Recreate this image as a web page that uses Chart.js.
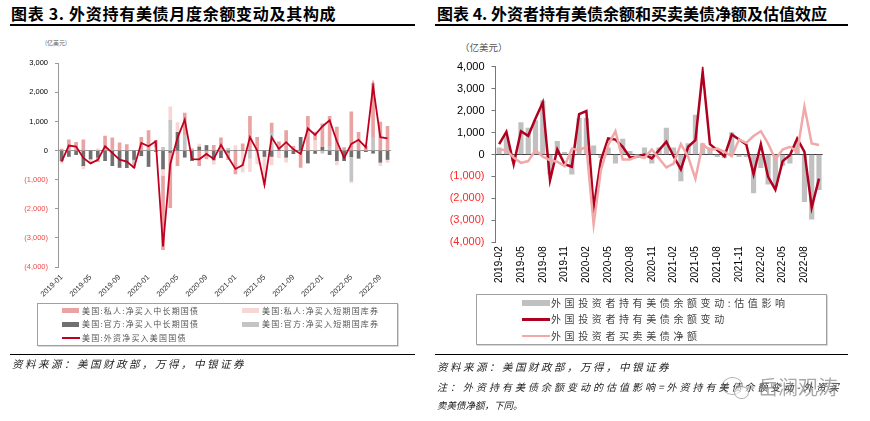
<!DOCTYPE html>
<html lang="zh">
<head>
<meta charset="UTF-8">
<title>外资持有美债</title>
<script src="https://cdn.jsdelivr.net/npm/chart.js@4.4.1/dist/chart.umd.js"></script>
<style>
  html, body { margin: 0; padding: 0; background: #fff; }
  body { width: 870px; height: 421px; position: relative; overflow: hidden; font-family: "Noto Sans CJK SC", sans-serif; }
  .abs { position: absolute; white-space: nowrap; }
  .title { font-size: 16px; font-weight: 700; line-height: 16px; color: #000; }
  .rule { position: absolute; background: #000; }
  .box { position: absolute; border: 1px solid #a0a0a0; box-shadow: 1px 1px 0 #d8d8d8; }
  .lgL { font-size: 8px; line-height: 10px; letter-spacing: 1.2px; color: #555; }
  .lgR { font-size: 10px; line-height: 12px; letter-spacing: 3.6px; color: #444; }
  .src { font-style: italic; color: #222; }
</style>
</head>
<body>
<div class="abs title" style="left:11px;top:5px;letter-spacing:0.7px;">图表 3. 外资持有美债月度余额变动及其构成</div>
<div class="abs title" style="left:437px;top:5px;">图表 4. 外资者持有美债余额和买卖美债净额及估值效应</div>
<div class="rule" style="left:10px;top:24px;width:405px;height:1.5px;"></div>
<div class="rule" style="left:435px;top:24px;width:413px;height:1.5px;"></div>

<div class="abs" style="left:45px;top:39px;font-size:6px;line-height:8px;color:#666;">(亿美元)</div>
<div class="abs" style="left:460px;top:41px;font-size:9.5px;line-height:12px;color:#555;">（亿美元）</div>

<canvas id="c1" width="400" height="250" style="position:absolute;left:0;top:50px;"></canvas>
<canvas id="c2" width="400" height="240" style="position:absolute;left:435px;top:50px;"></canvas>

<!-- left legend -->
<div class="box" style="left:37px;top:303px;width:359px;height:41px;"></div>
<div class="abs" style="left:62px;top:308px;width:17px;height:5px;background:#e9a3a3;"></div>
<div class="abs lgL" style="left:82px;top:305.5px;">美国:私人:净买入中长期国债</div>
<div class="abs" style="left:242px;top:308px;width:17px;height:5px;background:#f8d6d6;"></div>
<div class="abs lgL" style="left:262px;top:305.5px;">美国:私人:净买入短期国库券</div>
<div class="abs" style="left:62px;top:321.5px;width:17px;height:5px;background:#707070;"></div>
<div class="abs lgL" style="left:82px;top:319px;">美国:官方:净买入中长期国债</div>
<div class="abs" style="left:242px;top:321.5px;width:17px;height:5px;background:#c4c4c4;"></div>
<div class="abs lgL" style="left:262px;top:319px;">美国:官方:净买入短期国库券</div>
<div class="abs" style="left:62px;top:337px;width:18px;height:1.8px;background:#c00020;"></div>
<div class="abs lgL" style="left:82px;top:332.7px;">美国:外资净买入美国国债</div>

<!-- right legend -->
<div class="box" style="left:476px;top:294px;width:349px;height:49px;"></div>
<div class="abs" style="left:522px;top:299.7px;width:28px;height:6px;background:#c0c0c0;"></div>
<div class="abs lgR" style="left:551px;top:296.7px;">外国投资者持有美债余额变动:估值影响</div>
<div class="abs" style="left:522px;top:318px;width:28px;height:2.5px;background:#b00020;"></div>
<div class="abs lgR" style="left:551px;top:313.3px;">外国投资者持有美债余额变动</div>
<div class="abs" style="left:522px;top:334.7px;width:28px;height:2.5px;background:#f0a8a8;"></div>
<div class="abs lgR" style="left:551px;top:330px;">外国投资者买卖美债净额</div>

<div class="rule" style="left:10px;top:353.5px;width:405px;height:1.3px;"></div>
<div class="rule" style="left:435px;top:353.5px;width:413px;height:1.3px;"></div>

<div class="abs src" style="left:12px;top:357px;font-size:10.5px;line-height:14px;letter-spacing:2.5px;">资料来源：美国财政部，万得，中银证券</div>
<div class="abs src" style="left:437px;top:360px;font-size:10.5px;line-height:14px;letter-spacing:2.5px;">资料来源：美国财政部，万得，中银证券</div>
<div class="abs src" style="left:437px;top:380px;font-size:10px;line-height:14px;letter-spacing:3px;">注：外资持有美债余额变动的估值影响=外资持有美债余额变动-外资买</div>
<div class="abs src" style="left:437px;top:398px;font-size:9.5px;line-height:14px;">卖美债净额，下同。</div>

<!-- watermark -->
<div class="abs" style="left:722px;top:377px;width:19px;height:16px;border:1.5px solid rgba(120,120,120,0.6);border-radius:50%;"></div>
<div class="abs" style="left:734px;top:386px;width:13px;height:11px;border:1.5px solid rgba(120,120,120,0.6);border-radius:50%;background:rgba(255,255,255,0.6);"></div>
<div class="abs" style="left:758px;top:375px;font-size:20px;line-height:24px;color:rgba(110,110,110,0.6);">岳澜观涛</div>

<script>
// ---- 图表3 数据 (亿美元) ----
const monthsL = ['2019-01','2019-02','2019-03','2019-04','2019-05','2019-06','2019-07','2019-08','2019-09','2019-10','2019-11','2019-12',
  '2020-01','2020-02','2020-03','2020-04','2020-05','2020-06','2020-07','2020-08','2020-09','2020-10','2020-11','2020-12',
  '2021-01','2021-02','2021-03','2021-04','2021-05','2021-06','2021-07','2021-08','2021-09','2021-10','2021-11','2021-12',
  '2022-01','2022-02','2022-03','2022-04','2022-05','2022-06','2022-07','2022-08','2022-09','2022-10'];
const tickLabelsL = ['2019-01','2019-05','2019-09','2020-01','2020-05','2020-09','2021-01','2021-05','2021-09','2022-01','2022-05','2022-09'];
const privLong = [50,370,280,370,-70,-150,500,400,270,210,-140,460,690,250,-2545,-1900,-520,770,60,-520,-285,180,440,-250,-800,230,1180,460,0,320,200,690,150,-575,1180,290,805,1030,810,100,1330,630,150,1840,980,830];
const privShort = [-80,0,0,-100,-80,60,0,0,0,0,0,-25,0,100,-230,460,330,0,0,100,0,-150,0,0,170,-730,-470,-460,-970,-290,-240,-170,0,0,0,350,0,0,-140,0,-60,0,0,0,-120,-110];
const offLong = [-350,-200,-140,-520,-290,-230,-350,-520,-580,-590,-300,-170,-540,-30,-630,-60,630,-230,-350,120,170,-320,-240,-60,0,0,0,0,-200,-200,0,-230,-105,460,-420,-100,115,-140,-350,-350,-210,-260,-35,-90,-400,-300];
const offShort = [0,0,0,0,0,0,0,40,0,0,-150,0,0,0,115,1040,0,520,0,0,0,0,0,80,0,0,-250,0,0,630,100,0,0,0,0,0,-90,150,0,0,-830,0,0,460,0,0];
const foreignNet = [-380,175,140,-250,-440,-320,150,-80,-310,-380,-590,265,150,320,-3290,-460,440,1060,-290,-300,-115,-290,200,-230,-630,-500,460,0,-1170,460,60,290,45,-115,760,540,830,1040,320,-250,230,370,115,2210,460,420];

// ---- 图表4 数据 (亿美元) ----
const monthsR = ['2019-02','2019-03','2019-04','2019-05','2019-06','2019-07','2019-08','2019-09','2019-10','2019-11','2019-12',
  '2020-01','2020-02','2020-03','2020-04','2020-05','2020-06','2020-07','2020-08','2020-09','2020-10','2020-11','2020-12',
  '2021-01','2021-02','2021-03','2021-04','2021-05','2021-06','2021-07','2021-08','2021-09','2021-10','2021-11','2021-12',
  '2022-01','2022-02','2022-03','2022-04','2022-05','2022-06','2022-07','2022-08','2022-09','2022-10'];
const tickLabelsR = ['2019-02','2019-05','2019-08','2019-11','2020-02','2020-05','2020-08','2020-11','2021-02','2021-05','2021-08','2021-11','2022-02','2022-05','2022-08'];
const valuation = [300,800,-300,1450,1200,1550,2450,-900,600,100,-900,1650,1650,400,-150,300,-400,700,150,0,300,-400,300,1200,300,-1200,500,1800,500,300,-100,-150,1000,-100,-100,-1750,-600,-1350,-1450,-500,-400,600,-2150,-2950,-1600];
const holdingChange = [470,1030,-440,1060,850,1640,2370,-1170,230,-440,-560,1840,1980,-2450,-260,730,680,350,-140,-100,0,-180,200,580,-80,-680,350,650,3770,470,200,-80,910,680,460,-900,470,-1020,-1600,-300,-30,730,120,-2420,-1100];
const netPurchase = [230,200,-140,-380,-300,200,-100,-260,-330,-530,270,200,350,-3180,-710,430,1060,-230,-230,-80,-150,230,-180,-590,-410,470,-100,-1100,470,200,270,120,-80,680,530,840,1060,500,-230,230,350,120,2170,500,430];

function fmt(v) {
  const s = Math.abs(v).toLocaleString('en-US');
  return v < 0 ? '(' + s + ')' : s;
}

const numFont = 'Liberation Sans, Arial, sans-serif';

new Chart(document.getElementById('c1'), {
  type: 'bar',
  data: {
    labels: monthsL,
    datasets: [
      { type: 'line', label: '美国:外资净买入美国国债', data: foreignNet, borderColor: '#c00020', borderWidth: 1.8,
        pointRadius: 0, tension: 0, stack: 'line', order: 0 },
      { label: '美国:官方:净买入中长期国债', data: offLong, backgroundColor: '#707070', stack: 'bar', order: 1, barThickness: 3 },
      { label: '美国:官方:净买入短期国库券', data: offShort, backgroundColor: '#c4c4c4', stack: 'bar', order: 1, barThickness: 3 },
      { label: '美国:私人:净买入短期国库券', data: privShort, backgroundColor: '#f8d6d6', stack: 'bar', order: 1, barThickness: 3 },
      { label: '美国:私人:净买入中长期国债', data: privLong, backgroundColor: '#e9a3a3', stack: 'bar', order: 1, barThickness: 3 }
    ]
  },
  options: {
    responsive: false,
    animation: false,
    layout: { padding: { top: 13.3, right: 7.4, left: 0, bottom: 0 } },
    plugins: { legend: { display: false }, tooltip: { enabled: false } },
    scales: {
      x: {
        stacked: true, offset: true,
        grid: { display: false, drawTicks: false },
        border: { display: false },
        ticks: {
          autoSkip: false, minRotation: 45, maxRotation: 45, padding: 6,
          font: { family: numFont, size: 7.5 }, color: '#333',
          callback: (v, i) => tickLabelsL.includes(monthsL[i]) ? monthsL[i] : ''
        },
        afterFit: s => { s.height = 33; }
      },
      y: {
        stacked: true, min: -4000, max: 3000,
        ticks: {
          stepSize: 1000, padding: 7, callback: fmt,
          font: { family: numFont, size: 7.5 },
          color: c => c.tick.value < 0 ? '#f04848' : '#000'
        },
        grid: {
          color: c => c.tick.value === 0 ? '#999' : 'rgba(0,0,0,0)',
          drawTicks: true, tickLength: 3, tickColor: '#999'
        },
        border: { display: true, color: '#999' },
        afterFit: s => { s.width = 58; }
      }
    }
  }
});

new Chart(document.getElementById('c2'), {
  type: 'bar',
  data: {
    labels: monthsR,
    datasets: [
      { type: 'line', label: '外国投资者买卖美债净额', data: netPurchase, borderColor: '#f0a8a8', borderWidth: 2.5,
        pointRadius: 0, tension: 0, order: 0 },
      { type: 'line', label: '外国投资者持有美债余额变动', data: holdingChange, borderColor: '#b00020', borderWidth: 2.5,
        pointRadius: 0, tension: 0, order: 1 },
      { label: '外国投资者持有美债余额变动:估值影响', data: valuation, backgroundColor: '#c0c0c0', order: 2, barThickness: 4.5 }
    ]
  },
  options: {
    responsive: false,
    animation: false,
    layout: { padding: { top: 16.7, right: 1, left: 0, bottom: 0 } },
    plugins: { legend: { display: false }, tooltip: { enabled: false } },
    scales: {
      x: {
        offset: true,
        grid: { display: false, drawTicks: false },
        border: { display: false },
        ticks: {
          autoSkip: false, minRotation: 90, maxRotation: 90, padding: 4,
          font: { family: numFont, size: 10 }, color: '#000',
          callback: (v, i) => tickLabelsR.includes(monthsR[i]) ? monthsR[i] : ''
        },
        afterFit: s => { s.height = 47.7; }
      },
      y: {
        min: -4000, max: 4000,
        ticks: {
          stepSize: 1000, padding: 7, callback: fmt,
          font: { family: numFont, size: 11 },
          color: c => c.tick.value < 0 ? '#ff2a2a' : '#000'
        },
        grid: {
          color: c => c.tick.value === 0 ? '#333' : 'rgba(0,0,0,0)',
          drawTicks: true, tickLength: 4, tickColor: '#777'
        },
        border: { display: true, color: '#777' },
        afterFit: s => { s.width = 60.5; }
      }
    }
  }
});
</script>
</body>
</html>
